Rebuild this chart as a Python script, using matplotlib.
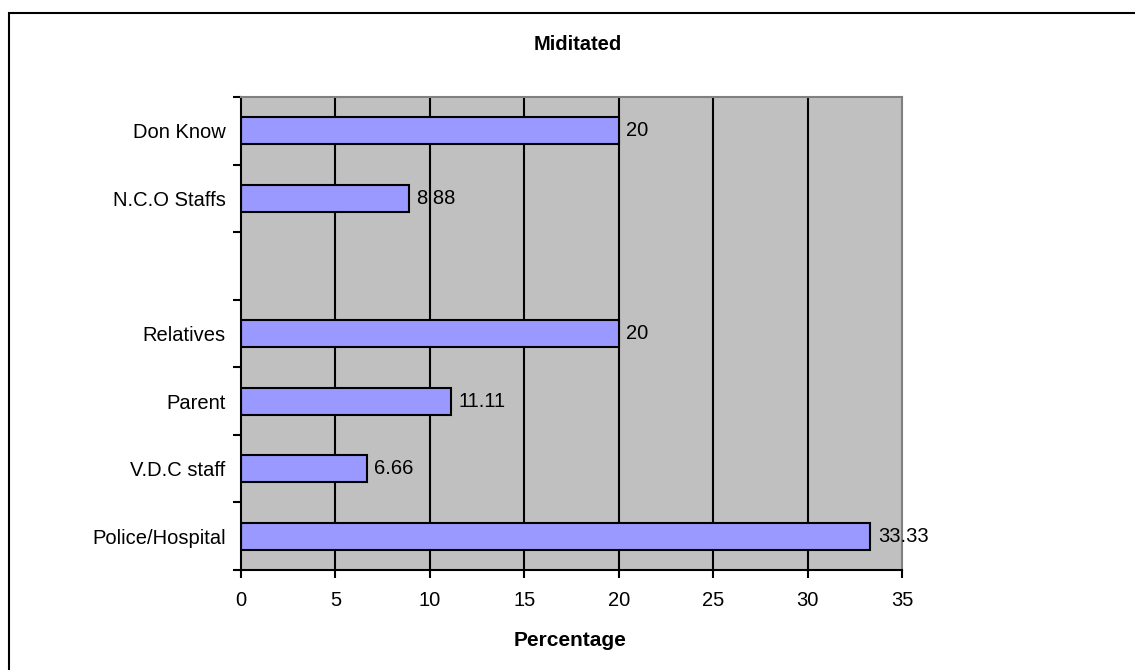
import numpy as np
import matplotlib.pyplot as plt
from matplotlib.patches import Rectangle

# Data (bottom to top, one empty slot as in the original sheet)
categories = ["Police/Hospital", "V.D.C staff", "Parent", "Relatives", "", "N.C.O Staffs", "Don Know"]
values = [33.33, 6.66, 11.11, 20, np.nan, 8.88, 20]
value_labels = ["33.33", "6.66", "11.11", "20", "", "8.88", "20"]
x_ticks = [0, 5, 10, 15, 20, 25, 30, 35]

plt.rcParams['font.family'] = ['Liberation Sans', 'DejaVu Sans']

W, H = 1135, 670
fig = plt.figure(figsize=(W / 100, H / 100), dpi=100)

# outer chart frame (only left/top edges visible in the picture)
fig.patches.append(Rectangle((9 / W, -0.1), 1.2, 1 - 13 / H + 0.1, transform=fig.transFigure,
                             fill=False, edgecolor='black', linewidth=1.5))

ax = fig.add_axes([241 / W, 1 - 570 / H, (902 - 241) / W, (570 - 97) / H])
ax.set_facecolor('#C0C0C0')

y = np.arange(len(categories))

# vertical gridlines
for xv in x_ticks[1:-1]:
    ax.axvline(xv, color='black', linewidth=1.5, zorder=1)

ax.barh(y, values, height=0.4, color='#9999FF', edgecolor='black', linewidth=1.5, zorder=2)

for yi, v, lab in zip(y, values, value_labels):
    if lab:
        ax.text(v + 0.4, yi, lab, va='center', ha='left', fontsize=14.5, zorder=3)

ax.set_xlim(0, 35)
ax.set_ylim(-0.5, len(categories) - 0.5)
ax.set_xticks(x_ticks)
ax.set_xticklabels([str(t) for t in x_ticks], fontsize=14.5)

ax.set_yticks(y)
ax.set_yticklabels(categories, fontsize=14.5)
ax.tick_params(axis='y', which='major', length=0, pad=11)
ax.set_yticks(np.arange(-0.5, len(categories), 1.0), minor=True)
ax.tick_params(axis='y', which='minor', length=6, width=1.5, color='black', direction='out')
ax.tick_params(axis='x', which='major', length=6, width=1.5, color='black', direction='out', pad=9)

ax.spines['left'].set_color('black')
ax.spines['bottom'].set_color('black')
ax.spines['left'].set_linewidth(1.5)
ax.spines['bottom'].set_linewidth(1.5)
ax.spines['top'].set_color('#808080')
ax.spines['right'].set_color('#808080')
ax.spines['top'].set_linewidth(1.5)
ax.spines['right'].set_linewidth(1.5)

fig.text(578 / W, 1 - 45 / H, "Miditated", ha='center', va='center', fontsize=14.5, fontweight='bold')
fig.text(570 / W, 1 - 640 / H, "Percentage", ha='center', va='center', fontsize=15, fontweight='bold')

fig.savefig('out.png', dpi=100)
